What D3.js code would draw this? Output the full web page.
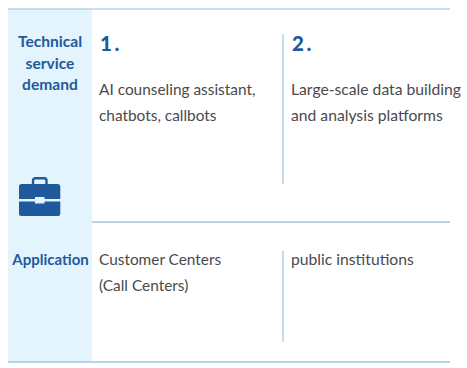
<!DOCTYPE html>
<html>
<head>
<meta charset="utf-8">
<script src="https://cdn.jsdelivr.net/npm/d3@7"></script>
<style>
  html, body { margin: 0; padding: 0; background: #fff; }
  svg { display: block; }
  text { font-family: "Lato", sans-serif; }
</style>
</head>
<body>
<div id="chart"></div>
<script>
// Content
const rows = ['demand', 'application'];
const columns = ['first', 'second'];
const rowHeadings = [['Technical', 'service', 'demand'], ['Application']];
const columnNumbers = ['1.', '2.'];
const demandTexts = [
  ['AI counseling assistant,', 'chatbots, callbots'],
  ['Large-scale data building', 'and analysis platforms']
];
const applicationTexts = [
  ['Customer Centers', '(Call Centers)'],
  ['public institutions']
];

const width = 467, height = 368;
const BLUE = '#1f5a9c', LINE = '#b5d5e6', PANEL = '#e3f4fc', TEXT = '#4a4a4c';

const svg = d3.select('#chart').append('svg')
  .attr('width', width)
  .attr('height', height)
  .attr('viewBox', `0 0 ${width} ${height}`);

// Table grid
const x = d3.scaleOrdinal().domain(columns).range([99, 291]);
const y = d3.scaleOrdinal().domain(rows).range([9, 222]);
const rowBottom = d3.scaleOrdinal().domain(rows).range([222, 362]);
const left = 8, panelRight = 92, right = 450;

svg.append('rect')
  .attr('x', left).attr('y', y('demand'))
  .attr('width', panelRight - left)
  .attr('height', rowBottom('application') - y('demand'))
  .attr('fill', PANEL);

// Horizontal rules
const rules = [
  { x1: left, x2: right, y: y('demand'), w: 1.6 },
  { x1: panelRight, x2: right, y: y('application'), w: 2 },
  { x1: left, x2: right, y: rowBottom('application'), w: 2 }
];
svg.selectAll('line.rule').data(rules).enter().append('line')
  .attr('class', 'rule')
  .attr('x1', d => d.x1).attr('x2', d => d.x2)
  .attr('y1', d => d.y).attr('y2', d => d.y)
  .attr('stroke', LINE).attr('stroke-width', d => d.w);

// Column dividers
const dividers = [
  { row: 'demand', top: 34, bottom: 184 },
  { row: 'application', top: 251, bottom: 342 }
];
svg.selectAll('line.divider').data(dividers).enter().append('line')
  .attr('class', 'divider')
  .attr('x1', x('second') - 8).attr('x2', x('second') - 8)
  .attr('y1', d => d.top).attr('y2', d => d.bottom)
  .attr('stroke', LINE).attr('stroke-width', 1.6);

// Row headings
const headingX = (left + panelRight) / 2;
const headingY = [47, 265];
const headingSize = [15.6, 15];
rowHeadings.forEach((lines, i) => {
  svg.append('g').selectAll('text').data(lines).enter().append('text')
    .attr('x', i === 1 ? 50.5 : headingX)
    .attr('y', (d, j) => headingY[i] + j * 21.5)
    .attr('text-anchor', 'middle')
    .attr('font-size', headingSize[i])
    .attr('font-weight', 700)
    .attr('fill', BLUE)
    .text(d => d);
});

// Column numbers
svg.selectAll('text.num').data(columnNumbers).enter().append('text')
  .attr('class', 'num')
  .attr('x', (d, i) => x(columns[i]) + 1)
  .attr('y', 50.5)
  .attr('font-size', 20.5)
  .attr('font-weight', 900)
  .attr('letter-spacing', 2.5)
  .attr('fill', BLUE)
  .text(d => d);

// Cell text
const cellSize = [15.4, 15.7];
const cellText = (items, baseline) => {
  items.forEach((lines, i) => {
    svg.append('g').selectAll('text').data(lines).enter().append('text')
      .attr('x', x(columns[i]))
      .attr('y', (d, j) => baseline + j * 26.5)
      .attr('font-size', cellSize[i])
      .attr('fill', TEXT)
      .text(d => d);
  });
};
cellText(demandTexts, 94.5);
cellText(applicationTexts, 264.5);

// Briefcase icon
const icon = svg.append('g').attr('transform', 'translate(19,177)').attr('fill', BLUE);
icon.append('path')
  .attr('d', 'M14 7V3.5Q14 1.3 16.5 1.3H25Q27.5 1.3 27.5 3.5V7')
  .attr('fill', 'none').attr('stroke', BLUE).attr('stroke-width', 2.4);
icon.append('path')
  .attr('d', 'M2.5 7H39Q41.3 7 41.3 9.5V22H25.5V20H16V22H0V9.5Q0 7 2.5 7Z');
icon.append('path')
  .attr('d', 'M0 24.5H16V26.5H25.5V24.5H41.3V36.5Q41.3 39 39 39H2.5Q0 39 0 36.5Z');
</script>
</body>
</html>
